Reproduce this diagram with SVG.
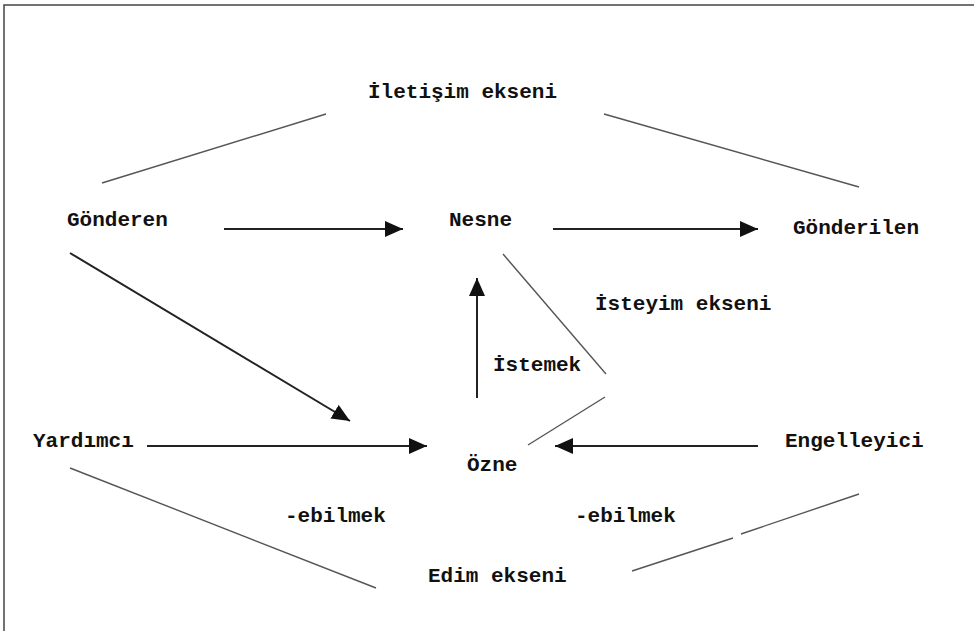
<svg xmlns="http://www.w3.org/2000/svg" width="974" height="631" viewBox="0 0 974 631">
<style>
.t{font-family:"Liberation Mono","Courier New",monospace;font-weight:bold;font-size:21px;fill:#111}
.ax{stroke:#555;stroke-width:1.4;fill:none}
.ar{stroke:#222;stroke-width:2;fill:none}
</style>
<defs>
<marker id="ah" viewBox="0 0 18 16" refX="18" refY="8" markerWidth="18" markerHeight="16" markerUnits="userSpaceOnUse" orient="auto">
<path d="M0,0 L18,8 L0,16 Z" fill="#111"/>
</marker>
</defs>
<rect width="974" height="631" fill="#fff"/>
<g id="frame"><path d="M4,631 V5 H974" stroke="#444" stroke-width="1.5" fill="none"/></g>
<g id="iletisim"><text class="t" x="368" y="98">İletişim ekseni</text></g>
<g id="gonderen"><text class="t" x="67" y="226">Gönderen</text></g>
<g id="nesne"><text class="t" x="449" y="226">Nesne</text></g>
<g id="gonderilen"><text class="t" x="793" y="234">Gönderilen</text></g>
<g id="isteyim"><text class="t" x="595" y="310">İsteyim ekseni</text></g>
<g id="istemek"><text class="t" x="493" y="371">İstemek</text></g>
<g id="yardimci"><text class="t" x="33" y="447">Yardımcı</text></g>
<g id="ozne"><text class="t" x="467" y="471">Özne</text></g>
<g id="engelleyici"><text class="t" x="785" y="447">Engelleyici</text></g>
<g id="ebilmek1"><text class="t" x="285" y="522">-ebilmek</text></g>
<g id="ebilmek2"><text class="t" x="575" y="522">-ebilmek</text></g>
<g id="edim"><text class="t" x="428" y="582">Edim ekseni</text></g>
<g id="connectors">
<line class="ax" x1="102" y1="183" x2="326" y2="114"/>
<line class="ax" x1="604" y1="114" x2="859" y2="187"/>
<line class="ax" x1="503" y1="254" x2="606" y2="374"/>
<line class="ax" x1="528" y1="445" x2="605" y2="397"/>
<line class="ax" x1="70" y1="468" x2="376" y2="588"/>
<line class="ax" x1="632" y1="571" x2="733" y2="538"/>
<line class="ax" x1="741" y1="534" x2="859" y2="494"/>
<line class="ar" x1="224" y1="229" x2="403" y2="229" marker-end="url(#ah)"/>
<line class="ar" x1="553" y1="229" x2="758" y2="229" marker-end="url(#ah)"/>
<line class="ar" x1="70" y1="253" x2="350" y2="421" marker-end="url(#ah)"/>
<line class="ar" x1="477" y1="398" x2="477" y2="278" marker-end="url(#ah)"/>
<line class="ar" x1="147" y1="446" x2="427" y2="446" marker-end="url(#ah)"/>
<line class="ar" x1="758" y1="446" x2="555" y2="446" marker-end="url(#ah)"/>
</g>
</svg>
